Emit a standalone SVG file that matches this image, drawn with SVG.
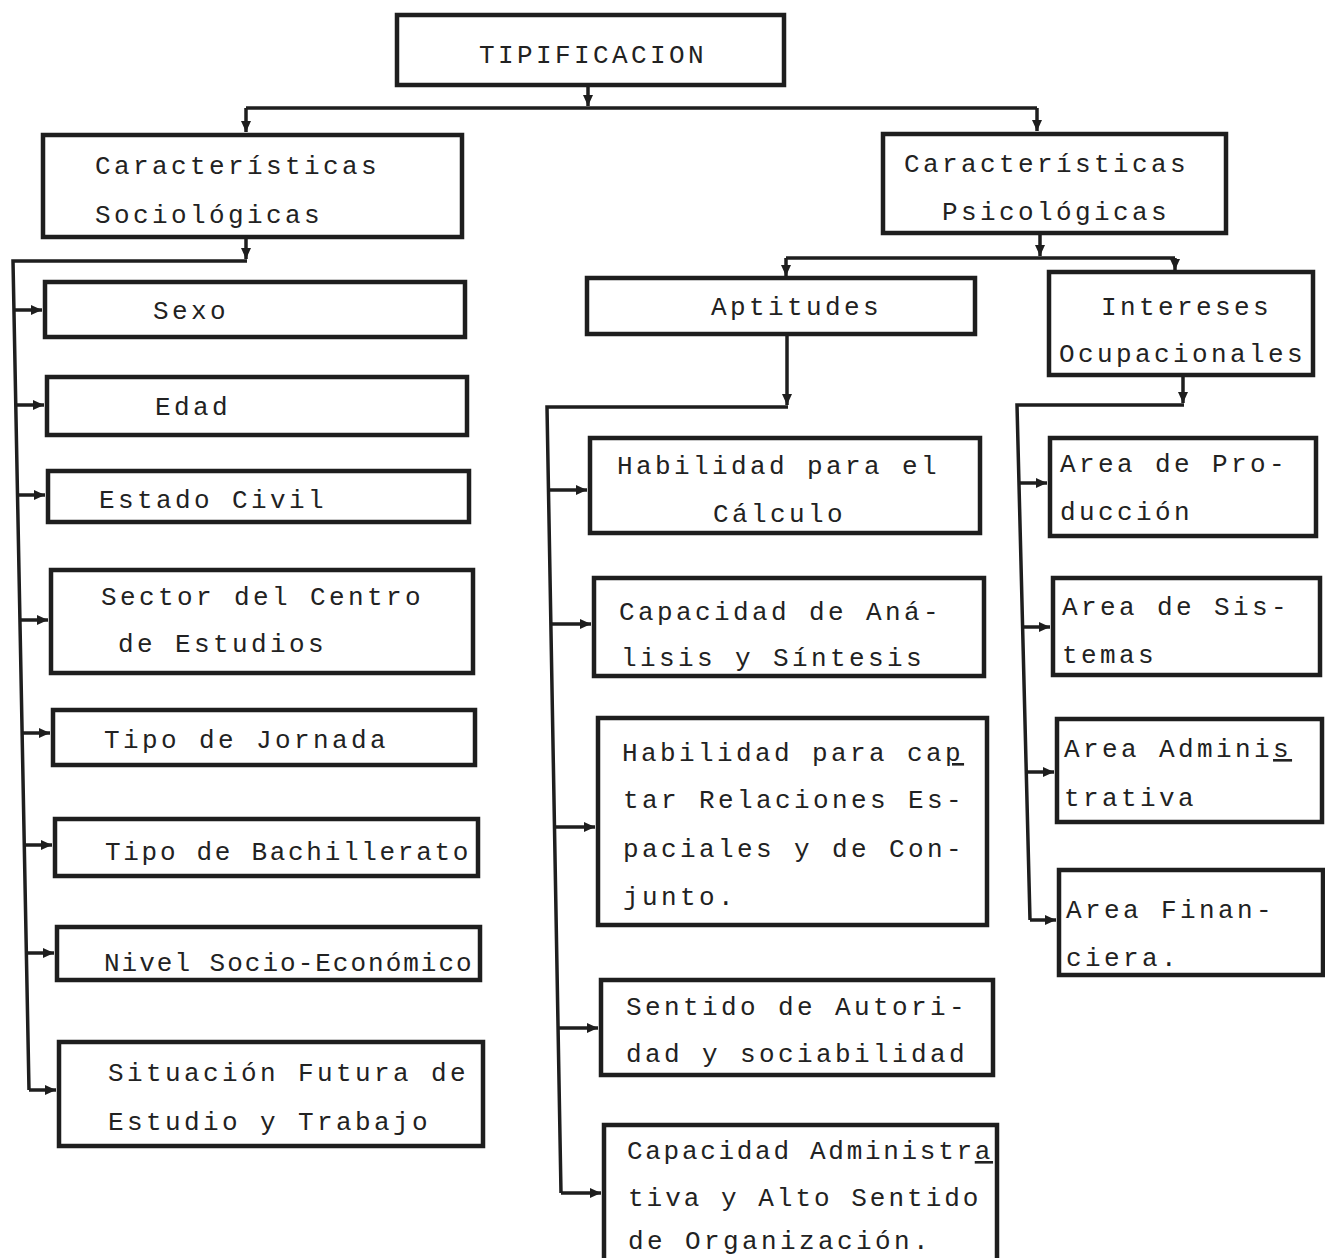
<svg xmlns="http://www.w3.org/2000/svg" width="1325" height="1258" viewBox="0 0 1325 1258">
<style>
.box{fill:#fff;stroke:#1e1e1e;stroke-width:4.5}
.t{font-family:"Liberation Mono","DejaVu Sans Mono",monospace;font-size:26px;letter-spacing:3.4px;fill:#222}
.c{fill:none;stroke:#1e1e1e;stroke-width:3.5}
</style>
<defs>
<marker id="ah" markerUnits="userSpaceOnUse" markerWidth="12" markerHeight="12" refX="11" refY="6" orient="auto">
<path d="M0,1 L11,6 L0,11 z" fill="#1e1e1e"/>
</marker>
</defs>
<rect width="1325" height="1258" fill="#fff"/>
<g id="connectors">
<path class="c" d="M588,86 V106" marker-end="url(#ah)"/>
<path class="c" d="M246,108 H1037"/>
<path class="c" d="M246,108 V132" marker-end="url(#ah)"/>
<path class="c" d="M1037,108 V131" marker-end="url(#ah)"/>
<path class="c" d="M246,237 V259" marker-end="url(#ah)"/>
<path class="c" d="M247,261 H13 L29,1090"/>
<path class="c" d="M14,310 H42" marker-end="url(#ah)"/>
<path class="c" d="M15.8,405 H44" marker-end="url(#ah)"/>
<path class="c" d="M17.5,495 H45" marker-end="url(#ah)"/>
<path class="c" d="M19.9,620 H48" marker-end="url(#ah)"/>
<path class="c" d="M22.1,733 H50" marker-end="url(#ah)"/>
<path class="c" d="M24.2,845 H52" marker-end="url(#ah)"/>
<path class="c" d="M26.3,953 H54" marker-end="url(#ah)"/>
<path class="c" d="M29,1090 H56" marker-end="url(#ah)"/>
<path class="c" d="M1040,233 V256" marker-end="url(#ah)"/>
<path class="c" d="M786,258 H1175"/>
<path class="c" d="M786,258 V276" marker-end="url(#ah)"/>
<path class="c" d="M1175,258 V270" marker-end="url(#ah)"/>
<path class="c" d="M787,334 V405" marker-end="url(#ah)"/>
<path class="c" d="M788,407 H547 L561,1193"/>
<path class="c" d="M548.5,490 H587" marker-end="url(#ah)"/>
<path class="c" d="M550.9,624 H591" marker-end="url(#ah)"/>
<path class="c" d="M554.5,827 H595" marker-end="url(#ah)"/>
<path class="c" d="M558,1028 H598" marker-end="url(#ah)"/>
<path class="c" d="M561,1193 H601" marker-end="url(#ah)"/>
<path class="c" d="M1183,375 V403" marker-end="url(#ah)"/>
<path class="c" d="M1184,405 H1017 L1030,920"/>
<path class="c" d="M1019,483 H1047" marker-end="url(#ah)"/>
<path class="c" d="M1022.6,627 H1050" marker-end="url(#ah)"/>
<path class="c" d="M1026.3,772 H1054" marker-end="url(#ah)"/>
<path class="c" d="M1030,920 H1056" marker-end="url(#ah)"/>
</g>
<g id="tipificacion"><rect class="box" x="397" y="15" width="387" height="70"/><text class="t" x="479" y="63">TIPIFICACION</text></g>
<g id="sociologicas"><rect class="box" x="43" y="135" width="419" height="102"/><text class="t" x="95" y="174">Características</text><text class="t" x="95" y="223">Sociológicas</text></g>
<g id="psicologicas"><rect class="box" x="883" y="134" width="343" height="99"/><text class="t" x="904" y="172">Características</text><text class="t" x="942" y="220">Psicológicas</text></g>
<g id="sexo"><rect class="box" x="45" y="282" width="420" height="55"/><text class="t" x="153" y="319">Sexo</text></g>
<g id="edad"><rect class="box" x="47" y="377" width="420" height="58"/><text class="t" x="155" y="415">Edad</text></g>
<g id="estado-civil"><rect class="box" x="48" y="471" width="421" height="51"/><text class="t" x="99" y="508">Estado Civil</text></g>
<g id="sector"><rect class="box" x="51" y="570" width="422" height="103"/><text class="t" x="101" y="605">Sector del Centro</text><text class="t" x="118" y="652">de Estudios</text></g>
<g id="jornada"><rect class="box" x="53" y="710" width="422" height="55"/><text class="t" x="104" y="748">Tipo de Jornada</text></g>
<g id="bachillerato"><rect class="box" x="55" y="819" width="423" height="57"/><text class="t" x="105" y="860" style="letter-spacing:2.7px">Tipo de Bachillerato</text></g>
<g id="nivel"><rect class="box" x="57" y="927" width="423" height="53"/><text class="t" x="104" y="971" style="letter-spacing:2px">Nivel Socio-Económico</text></g>
<g id="situacion"><rect class="box" x="59" y="1042" width="424" height="104"/><text class="t" x="108" y="1081">Situación Futura de</text><text class="t" x="108" y="1130">Estudio y Trabajo</text></g>
<g id="aptitudes"><rect class="box" x="587" y="278" width="388" height="56"/><text class="t" x="711" y="315">Aptitudes</text></g>
<g id="intereses"><rect class="box" x="1049" y="272" width="264" height="103"/><text class="t" x="1101" y="315">Intereses</text><text class="t" x="1059" y="362">Ocupacionales</text></g>
<g id="calculo"><rect class="box" x="590" y="438" width="390" height="95"/><text class="t" x="617" y="474">Habilidad para el</text><text class="t" x="713" y="522">Cálculo</text></g>
<g id="analisis"><rect class="box" x="594" y="578" width="390" height="98"/><text class="t" x="619" y="620">Capacidad de Aná-</text><text class="t" x="621" y="666">lisis y Síntesis</text></g>
<g id="espaciales"><rect class="box" x="598" y="718" width="389" height="207"/><text class="t" x="622" y="761">Habilidad para ca<tspan text-decoration="underline">p</tspan></text><text class="t" x="623" y="808">tar Relaciones Es-</text><text class="t" x="623" y="857">paciales y de Con-</text><text class="t" x="623" y="905">junto.</text></g>
<g id="autoridad"><rect class="box" x="601" y="980" width="392" height="95"/><text class="t" x="626" y="1015">Sentido de Autori-</text><text class="t" x="626" y="1062">dad y sociabilidad</text></g>
<g id="administrativa"><rect class="box" x="604" y="1125" width="393" height="140"/><text class="t" x="627" y="1159" style="letter-spacing:2.7px">Capacidad Administr<tspan text-decoration="underline">a</tspan></text><text class="t" x="628" y="1206" style="letter-spacing:3px">tiva y Alto Sentido</text><text class="t" x="628" y="1249">de Organización.</text></g>
<g id="produccion"><rect class="box" x="1050" y="438" width="266" height="98"/><text class="t" x="1060" y="472">Area de Pro-</text><text class="t" x="1060" y="520">ducción</text></g>
<g id="sistemas"><rect class="box" x="1053" y="578" width="267" height="97"/><text class="t" x="1062" y="615">Area de Sis-</text><text class="t" x="1062" y="663">temas</text></g>
<g id="area-administrativa"><rect class="box" x="1057" y="719" width="265" height="103"/><text class="t" x="1064" y="757">Area Admini<tspan text-decoration="underline">s</tspan></text><text class="t" x="1064" y="806">trativa</text></g>
<g id="financiera"><rect class="box" x="1059" y="870" width="264" height="105"/><text class="t" x="1066" y="918">Area Finan-</text><text class="t" x="1066" y="966">ciera.</text></g>
</svg>
